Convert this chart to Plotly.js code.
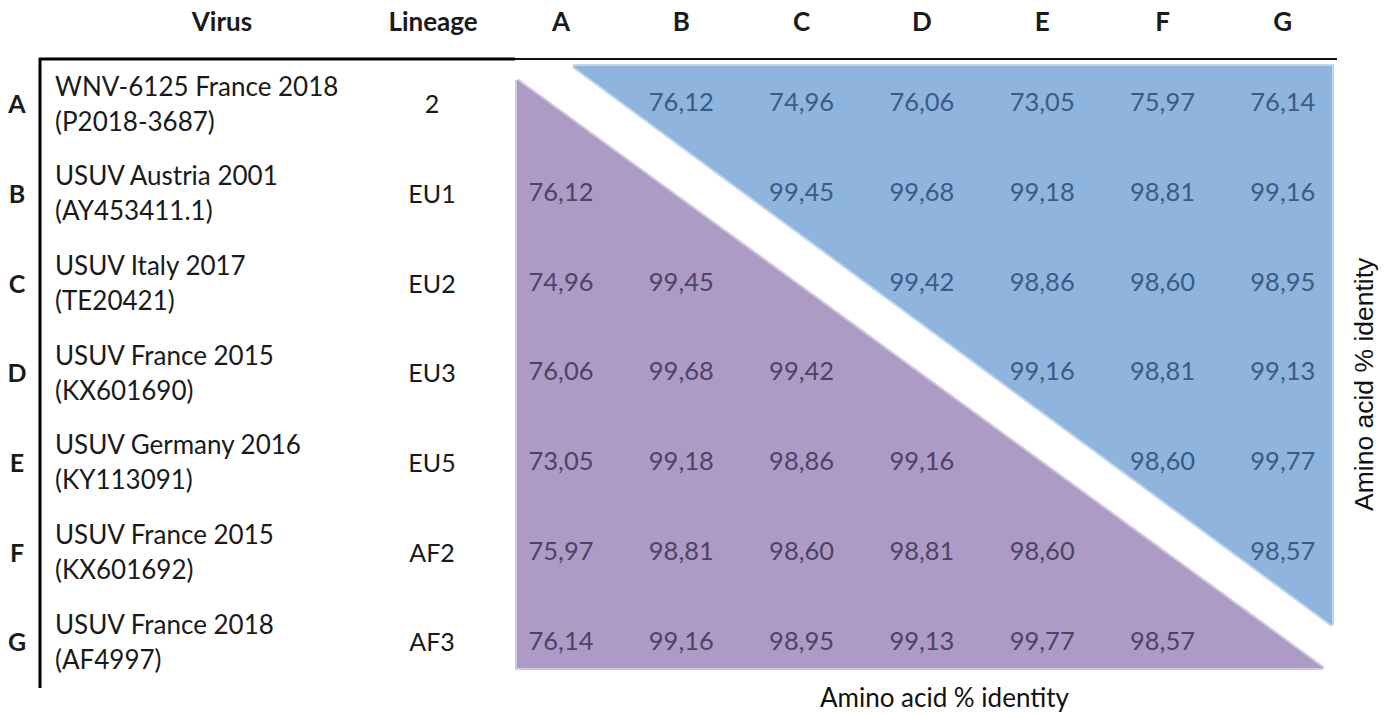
<!DOCTYPE html>
<html>
<head>
<meta charset="utf-8">
<script src="https://cdn.plot.ly/plotly-3.0.1.min.js"></script>
<style>html,body{margin:0;padding:0;background:#fff;}#chart{width:1389px;height:715px;}</style>
</head>
<body>
<div id="chart"></div>
<script>
// ---- data ----
const cols = ['A','B','C','D','E','F','G'];
const virusNames = ['WNV-6125 France 2018','USUV Austria 2001','USUV Italy 2017','USUV France 2015','USUV Germany 2016','USUV France 2015','USUV France 2018'];
const accessions = ['(P2018-3687)','(AY453411.1)','(TE20421)','(KX601690)','(KY113091)','(KX601692)','(AF4997)'];
const lineages = ['2','EU1','EU2','EU3','EU5','AF2','AF3'];
const identity = [
  [null, 76.12, 74.96, 76.06, 73.05, 75.97, 76.14],
  [76.12, null, 99.45, 99.68, 99.18, 98.81, 99.16],
  [74.96, 99.45, null, 99.42, 98.86, 98.60, 98.95],
  [76.06, 99.68, 99.42, null, 99.16, 98.81, 99.13],
  [73.05, 99.18, 98.86, 99.16, null, 98.60, 99.77],
  [75.97, 98.81, 98.60, 98.81, 98.60, null, 98.57],
  [76.14, 99.16, 98.95, 99.13, 99.77, 98.57, null]
];
const headerVirus = 'Virus';
const headerLineage = 'Lineage';
const axisTitle = 'Amino acid % identity';

// ---- layout geometry (index units: column i, row j) ----
const n = cols.length;
const X0 = 561, DX = 120.3, Y0 = 105, DY = 89.7;
const px = p => (p - X0) / DX;
const py = p => (p - Y0) / DY;

const fmt = v => v.toFixed(2).replace('.', ',');
const lowX = [], lowY = [], lowT = [], upX = [], upY = [], upT = [];
identity.forEach((row, j) => row.forEach((v, i) => {
  if (v === null) return;
  if (i < j) { lowX.push(i); lowY.push(j); lowT.push(fmt(v)); }
  else { upX.push(i); upY.push(j); upT.push(fmt(v)); }
}));
const rowIdx = cols.map((c, j) => j);

const FONT = 'Lato, Carlito, "Open Sans", sans-serif';
const purple = '#ad9bc6', blue = '#8fb4de';

const pL = px(517), pR = px(1323), pT = py(80), pB = py(668);
const bL = px(573), bR = px(1332), bT = py(66), bB = py(625);

const traces = [
  {x:[pL, pL, pR, pL], y:[pT, pB, pB, pT], mode:'lines', fill:'toself', fillcolor:purple,
   line:{color:'rgba(173,155,198,0.55)', width:4}, hoverinfo:'skip'},
  {x:[bL, bR, bR, bL], y:[bT, bT, bB, bT], mode:'lines', fill:'toself', fillcolor:blue,
   line:{color:'rgba(143,180,222,0.55)', width:4}, hoverinfo:'skip'},
  {x:lowX, y:lowY, text:lowT, mode:'text', textposition:'middle center',
   textfont:{family:FONT, size:25.5, color:'#4f4266'}, hoverinfo:'skip'},
  {x:upX, y:upY, text:upT, mode:'text', textposition:'middle center',
   textfont:{family:FONT, size:25.5, color:'#3b5b86'}, hoverinfo:'skip'},
  // column headers
  {x:[px(222), px(433)].concat(cols.map((c,i)=>i)), y:Array(n+2).fill(py(24)),
   text:[headerVirus, headerLineage].concat(cols), mode:'text', textposition:'middle center',
   textfont:{family:FONT, size:26, color:'#1a1a1a', weight:700}, hoverinfo:'skip'},
  // row letters
  {x:Array(n).fill(px(17)), y:rowIdx.map(j => j + py(107) ), text:cols, mode:'text', textposition:'middle center',
   textfont:{family:FONT, size:25, color:'#1a1a1a', weight:700}, hoverinfo:'skip'},
  // virus names (two lines)
  {x:Array(n).fill(px(55)), y:rowIdx.map(j => j + py(89)), text:virusNames, mode:'text', textposition:'middle right',
   textfont:{family:FONT, size:26, color:'#1a1a1a'}, hoverinfo:'skip'},
  {x:Array(n).fill(px(55)), y:rowIdx.map(j => j + py(124)), text:accessions, mode:'text', textposition:'middle right',
   textfont:{family:FONT, size:26, color:'#1a1a1a'}, hoverinfo:'skip'},
  // lineage
  {x:Array(n).fill(px(432)), y:rowIdx.map(j => j + py(107)), text:lineages, mode:'text', textposition:'middle center',
   textfont:{family:FONT, size:25, color:'#1a1a1a'}, hoverinfo:'skip'}
];

const layout = {
  width:1389, height:715,
  margin:{l:0, r:0, t:0, b:0},
  paper_bgcolor:'#ffffff', plot_bgcolor:'#ffffff',
  showlegend:false,
  xaxis:{range:[px(0), px(1389)], visible:false, fixedrange:true},
  yaxis:{range:[py(715), py(0)], visible:false, fixedrange:true},
  shapes:[
    {type:'line', x0:px(39), x1:px(515), y0:py(59), y1:py(59), line:{color:'#000', width:3}},
    {type:'line', x0:px(515), x1:px(1337), y0:py(59), y1:py(59), line:{color:'#111', width:1.8}},
    {type:'line', x0:px(40), x1:px(40), y0:py(58), y1:py(688), line:{color:'#000', width:3}}
  ],
  annotations:[
    {x:px(945), y:py(697), xref:'x', yref:'y', text:axisTitle, showarrow:false,
     font:{family:FONT, size:26, color:'#111'}},
    {x:px(1364), y:py(384), xref:'x', yref:'y', text:axisTitle, showarrow:false, textangle:-90,
     font:{family:'"Liberation Sans", Arial, sans-serif', size:26.5, color:'#111'}}
  ]
};

Plotly.newPlot('chart', traces, layout, {displayModeBar:false, staticPlot:true});
</script>
</body>
</html>
